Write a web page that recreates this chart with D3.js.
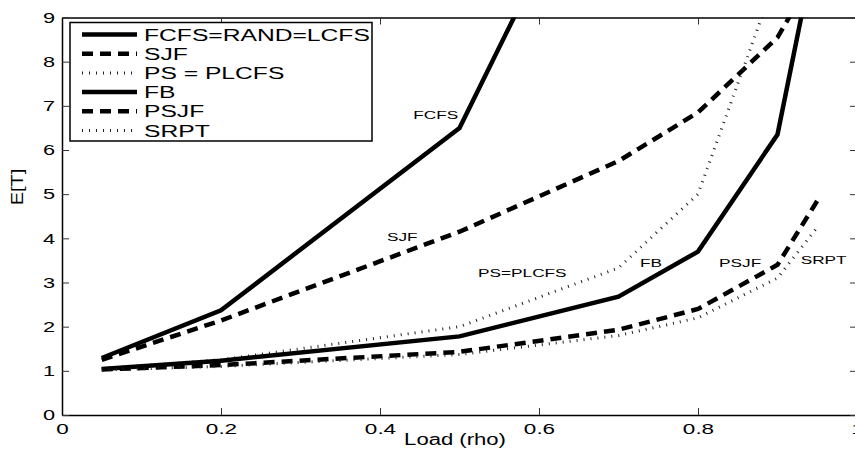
<!DOCTYPE html>
<html>
<head>
<meta charset="utf-8">
<script src="https://cdn.jsdelivr.net/npm/d3@7"></script>
<style>
body { margin: 0; background: #fff; }
text { font-family: "Liberation Sans", Arial, Helvetica, sans-serif; fill: #000; }
</style>
</head>
<body>
<svg id="chart" width="855" height="457"></svg>
<script>
"use strict"

// load values (x) shared by every policy
const loads = [0.05, 0.2, 0.5, 0.7, 0.8, 0.9, 0.95];

// E[T], one array per policy
const fcfs = [1.29, 2.37, 6.5, 13.8, 23.0, 50.5, 105.5];
const sjf  = [1.25, 2.14, 4.15, 5.75, 6.85, 8.55, 10.1];
const ps   = [1.05, 1.25, 2.0, 3.33, 5.0, 10.0, 20.0];
const fb   = [1.04, 1.23, 1.78, 2.68, 3.7, 6.35, 10.8];
const psjf = [1.03, 1.13, 1.43, 1.93, 2.4, 3.4, 4.85];
const srpt = [1.02, 1.1, 1.37, 1.8, 2.2, 3.1, 4.25];

const legendNames = ["FCFS=RAND=LCFS", "SJF", "PS = PLCFS", "FB", "PSJF", "SRPT"];
const xTicks = [0, 0.2, 0.4, 0.6, 0.8, 1];
const yTicks = [0, 1, 2, 3, 4, 5, 6, 7, 8, 9];

// in-plot labels: name, load, E[T] (baseline)
const curveLabels = [
    ["FCFS", 0.47, 6.7],
    ["SJF", 0.428, 3.94],
    ["PS=PLCFS", 0.579, 3.12],
    ["FB", 0.741, 3.35],
    ["PSJF", 0.853, 3.35],
    ["SRPT", 0.958, 3.42]
];

const styles = {
    solid:  { width: 4.5, dash: null, color: "#000" },
    dashed: { width: 4.5, dash: "11,7", color: "#000" },
    dotted: { width: 3, dash: "1,6", color: "#222" }
};
const series = [
    { values: fcfs, style: "solid" },
    { values: sjf,  style: "dashed" },
    { values: ps,   style: "dotted" },
    { values: fb,   style: "solid" },
    { values: psjf, style: "dashed" },
    { values: srpt, style: "dotted" }
];

const svg = d3.select("#chart");
const plotLeft = 62, plotRight = 857, plotTop = 17.5, plotBottom = 415;

const x = d3.scaleLinear().domain([0, 1]).range([plotLeft, plotRight]);
const y = d3.scaleLinear().domain([0, 9]).range([plotBottom, plotTop]);

// the fonts in the figure are stretched sideways
function stretch(sel, sx) {
    sel.each(function() {
        let t = d3.select(this);
        let tx = +t.attr("x") || 0;
        let ty = +t.attr("y") || 0;
        t.attr("x", null).attr("y", null)
         .attr("transform", "translate(" + tx + "," + ty + ") scale(" + sx + ",1)");
    });
}

svg.append("defs").append("clipPath").attr("id", "plotclip")
    .append("rect")
    .attr("x", plotLeft).attr("y", plotTop)
    .attr("width", plotRight - plotLeft).attr("height", plotBottom - plotTop);

// curves
let line = d3.line().x((d, i) => x(loads[i])).y(d => y(d));
let curves = svg.append("g").attr("clip-path", "url(#plotclip)");
series.forEach(function(s) {
    let st = styles[s.style];
    curves.append("path")
        .attr("d", line(s.values))
        .attr("fill", "none")
        .attr("stroke", st.color)
        .attr("stroke-width", st.width)
        .attr("stroke-dasharray", st.dash)
        .attr("stroke-linejoin", "miter");
});

// axes, ticks point inward
let xAxis = svg.append("g").attr("transform", "translate(0," + plotBottom + ")")
    .call(d3.axisBottom(x).tickValues(xTicks).tickFormat(d3.format("~g"))
        .tickSizeInner(-7).tickSizeOuter(0).tickPadding(8));
svg.append("g").attr("transform", "translate(0," + plotTop + ")")
    .call(d3.axisTop(x).tickValues(xTicks).tickFormat("")
        .tickSizeInner(-7).tickSizeOuter(0));
let yAxis = svg.append("g").attr("transform", "translate(" + plotLeft + ",0)")
    .call(d3.axisLeft(y).tickValues(yTicks).tickFormat(d3.format("d"))
        .tickSizeInner(-7).tickSizeOuter(0).tickPadding(7));
svg.append("g").attr("transform", "translate(" + plotRight + ",0)")
    .call(d3.axisRight(y).tickValues(yTicks).tickFormat("")
        .tickSizeInner(-7).tickSizeOuter(0));

svg.selectAll(".domain").attr("stroke", "#000").attr("stroke-width", 1.5);
svg.selectAll(".tick line").attr("stroke", "#333").attr("stroke-width", 1);
svg.selectAll(".tick text").attr("font-size", 15).attr("fill", "#000")
    .style("font-family", "'Liberation Sans', Arial, sans-serif");
stretch(xAxis.selectAll(".tick text"), 1.5);
stretch(yAxis.selectAll(".tick text"), 1.45);

// axis titles
svg.append("text")
    .attr("x", 455).attr("y", 445)
    .attr("text-anchor", "middle")
    .attr("font-size", 16)
    .text("Load (rho)")
    .call(stretch, 1.38);
svg.append("text")
    .attr("transform", "translate(23,187) rotate(-90) scale(1.25,1)")
    .attr("text-anchor", "middle")
    .attr("font-size", 16)
    .text("E[T]");

// labels next to the curves
svg.append("g").selectAll("text")
    .data(curveLabels)
    .enter().append("text")
    .attr("x", d => x(d[1]))
    .attr("y", d => y(d[2]))
    .attr("text-anchor", "middle")
    .attr("font-size", 11.5)
    .text(d => d[0])
    .call(stretch, 1.5);

// legend
let legend = svg.append("g");
legend.append("rect")
    .attr("x", 70).attr("y", 22.5)
    .attr("width", 302).attr("height", 118.5)
    .attr("fill", "#fff").attr("stroke", "#000").attr("stroke-width", 1.5);
legendNames.forEach(function(name, i) {
    let st = styles[series[i].style];
    let ly = 34.5 + i * 19.2;
    legend.append("line")
        .attr("x1", 82).attr("x2", 137)
        .attr("y1", ly).attr("y2", ly)
        .attr("stroke", st.color)
        .attr("stroke-width", st.width)
        .attr("stroke-dasharray", st.dash);
    legend.append("text")
        .attr("x", 144).attr("y", ly + 6)
        .attr("font-size", 17)
        .text(name)
        .call(stretch, 1.45);
});
</script>
</body>
</html>
